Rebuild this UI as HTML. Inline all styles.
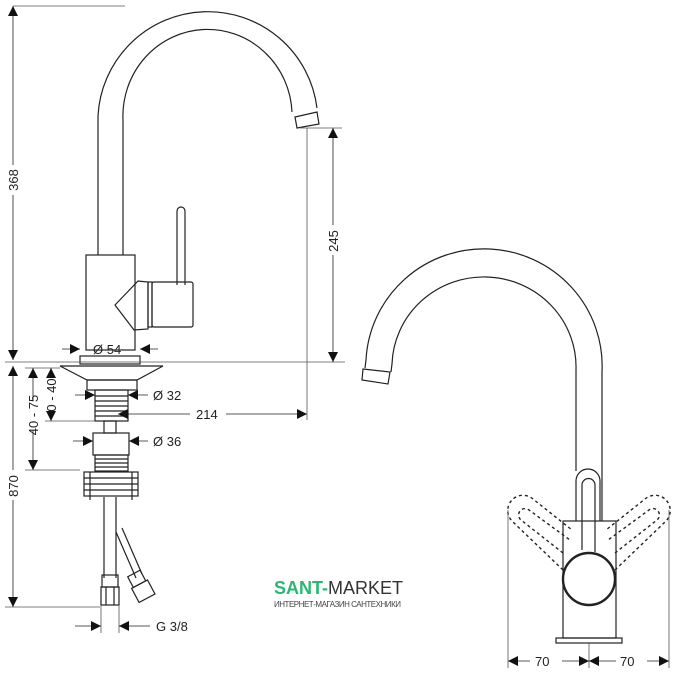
<!DOCTYPE html>
<html><head><style>body{margin:0;background:#fff}svg{display:block}text{font-family:"Liberation Sans",sans-serif;fill:#222}</style></head>
<body>
<svg width="675" height="675" viewBox="0 0 675 675" xmlns="http://www.w3.org/2000/svg">
<defs>
<marker id="a" viewBox="0 0 10 10" refX="10" refY="5" markerWidth="10" markerHeight="10" markerUnits="userSpaceOnUse" orient="auto-start-reverse"><path d="M0,0 L10,5 L0,10z" fill="#111"/></marker>
</defs>
<g stroke="#222" stroke-width="1.2" fill="none">
<path d="M98,255 L98,116 A110,110 0 0 1 317,108"/>
<path d="M123,255 L123,120 A84,86 0 0 1 292,112"/>
<path d="M295,117 L317,112 L319,124 L297,128 Z"/>
<rect x="86" y="255" width="49" height="95"/>
<path d="M138,281 L115,305 L134,330 L148,329 L148,282 Z"/>
<rect x="148" y="282" width="4" height="45"/>
<rect x="152" y="282" width="41" height="45" rx="2"/>
<path d="M177,285 L177,211 A4,4 0 0 1 185,211 L185,285"/>
<rect x="80" y="356" width="60" height="8"/>
<path d="M60,366 L163,366 L137,380 L87,380 Z"/>
<rect x="87" y="380" width="50" height="10"/>
<rect x="95" y="390" width="33" height="31"/>
<path d="M95,396 H128 M95,401 H128 M95,406 H128 M95,411 H128 M95,416 H128"/>
<rect x="104" y="421" width="12" height="12"/>
<rect x="93" y="433" width="36" height="22"/>
<rect x="95" y="455" width="33" height="16"/>
<path d="M95,459 H128 M95,463 H128 M95,467 H128"/>
<rect x="84" y="472" width="54" height="24"/>
<path d="M84,478 H138 M84,484 H138 M84,490 H138 M90,496 V500 M132,496 V500 M90,472 V496 M132,472 V496"/>
<path d="M104,497 V578 M116,497 V578"/>
<rect x="102" y="575" width="16" height="12"/>
<rect x="101" y="587" width="18" height="18"/>
<path d="M106,587 V605 M114,587 V605"/>
<path d="M116,532 L136,578 M122,528 L142,574"/>
<g transform="rotate(-28 140 585)"><rect x="133" y="572" width="14" height="12"/><rect x="131" y="584" width="18" height="16"/></g>
<path d="M365,368 L366,360 A118,117 0 0 1 602,372 L602,521"/>
<path d="M391,372 L392,364 A92,90 0 0 1 576,370 L576,471"/>
<path d="M363,369 L390,372 L388,384 L362,380 Z"/>
<path d="M576,521 L576,481 A12,12 0 0 1 600,481 L600,521"/>
<path d="M582,550 L582,485 A6.5,6.5 0 0 1 595,485 L595,552"/>
<rect x="563" y="521" width="53" height="117"/>
<rect x="556" y="638" width="66" height="5"/>
<g stroke-dasharray="3,3" stroke-width="1.4">
<path d="M563,570 L513,522 A12,12 0 0 1 533,499 L572,530"/>
<path d="M563,553 L521,520 A5,5 0 0 1 529,510 L570,540"/>
<path d="M615,570 L665,522 A12,12 0 0 0 645,499 L606,530"/>
<path d="M615,553 L657,520 A5,5 0 0 0 649,510 L608,540"/>
</g>
<circle cx="589" cy="579" r="26" stroke-width="2.4" fill="#fff"/>
</g>
<g stroke="#555" stroke-width="0.8" fill="none">
<path d="M13,6 H125"/>
<path d="M5,362 H345"/>
<path d="M300,128 H342"/>
<path d="M307,128 V420"/>
<path d="M5,607 H100"/>
<path d="M25,368 H60 M45,421 H95 M25,470 H80"/>
<path d="M101,605 V633 M119,605 V633"/>
<path d="M508,510 V668 M669,510 V668 M589,643 V668"/>
</g>
<g stroke="#222" stroke-width="0.8" fill="none" marker-end="url(#a)">
<path d="M13,195 V360"/><path d="M13,165 V6"/>
<path d="M13,470 V366"/><path d="M13,500 V607"/>
<path d="M33,400 V368"/><path d="M33,430 V470"/>
<path d="M51,378 V368"/><path d="M51,413 V421"/>
<path d="M333,225 V128"/><path d="M333,255 V362"/>
<path d="M62,349 H80"/><path d="M158,349 H140"/>
<path d="M75,395 H95"/><path d="M148,395 H128"/>
<path d="M73,441 H93"/><path d="M148,441 H129"/>
<path d="M190,414 H118"/><path d="M226,414 H307"/>
<path d="M75,626 H101"/><path d="M150,626 H119"/>
<path d="M530,661 H508"/><path d="M562,661 H589"/>
<path d="M616,661 H589"/><path d="M647,661 H669"/>
</g>
<g font-size="13">
<text x="93" y="354">Ø 54</text>
<text x="153" y="400">Ø 32</text>
<text x="153" y="446">Ø 36</text>
<text x="196" y="419">214</text>
<text x="156" y="631">G 3/8</text>
<text x="535" y="666">70</text>
<text x="620" y="666">70</text>
<text transform="translate(18,180) rotate(-90)" text-anchor="middle">368</text>
<text transform="translate(18,486) rotate(-90)" text-anchor="middle">870</text>
<text transform="translate(38,415) rotate(-90)" text-anchor="middle">40 - 75</text>
<text transform="translate(56,395) rotate(-90)" text-anchor="middle">0 - 40</text>
<text transform="translate(338,241) rotate(-90)" text-anchor="middle">245</text>
</g>
<text x="274" y="594" font-size="18"><tspan style="fill:#2bb673;font-weight:bold">SANT-</tspan><tspan style="fill:#333">MARKET</tspan></text>
<text x="274" y="607" font-size="8" style="fill:#444" textLength="127">ИНТЕРНЕТ-МАГАЗИН САНТЕХНИКИ</text>
</svg>
</body></html>
